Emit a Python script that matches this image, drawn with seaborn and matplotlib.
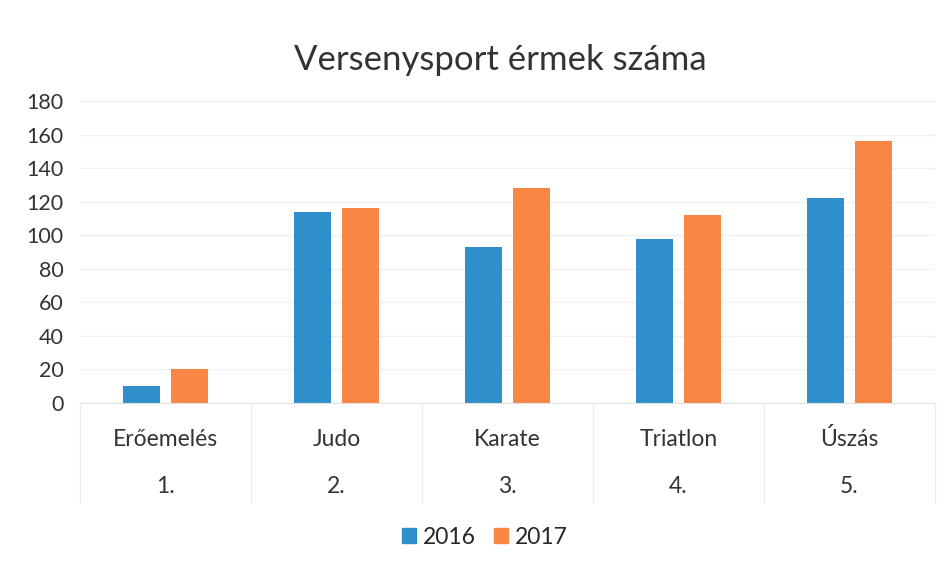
import pandas as pd
import matplotlib.pyplot as plt
import seaborn as sns
from matplotlib.patches import Patch

# adatok
sportok = ['Erőemelés', 'Judo', 'Karate', 'Triatlon', 'Úszás']
sorszam = ['1.', '2.', '3.', '4.', '5.']
ev_2016 = [10, 114, 93, 98, 122]
ev_2017 = [20, 116, 128, 112, 156]
evek = ['2016', '2017']
y_ticks = [0, 20, 40, 60, 80, 100, 120, 140, 160, 180]

df = pd.DataFrame({
    'sport': sportok * 2,
    'ev': [evek[0]] * len(sportok) + [evek[1]] * len(sportok),
    'ermek': ev_2016 + ev_2017,
})

sns.set_style('white')
plt.rcParams['font.family'] = ['Lato', 'DejaVu Sans']

fig = plt.figure(figsize=(9.44, 5.75), dpi=100, facecolor='white')
ax = fig.add_axes([80 / 944, 1 - 403 / 575, 855 / 944, 302 / 575])

szinek = ['#2E8FCA', '#FA8646']
sns.barplot(data=df, x='sport', y='ermek', hue='ev', palette=szinek,
            width=0.56, gap=0.21, ax=ax, saturation=1, legend=False,
            linewidth=0)

ax.set_ylim(0, 180)
ax.set_xlim(-0.5, len(sportok) - 0.5)
ax.set_yticks(y_ticks)
ax.set_yticklabels([str(t) for t in y_ticks], fontsize=15.5, color='#333333')
ax.tick_params(axis='y', length=0, pad=12)
ax.grid(axis='y', color='#f0f0f0', linewidth=1)
ax.set_axisbelow(True)
for s in ['top', 'right', 'left']:
    ax.spines[s].set_visible(False)
ax.spines['bottom'].set_color('#e2e2e2')

ax.set_xlabel('')
ax.set_ylabel('')
ax.set_xticks([])

# kétszintű kategória tengely
trans = ax.get_xaxis_transform()
for i, (nev, szam) in enumerate(zip(sportok, sorszam)):
    ax.text(i, -0.12, nev, transform=trans, ha='center', va='center',
            fontsize=16.5, color='#333333')
    ax.text(i, -0.275, szam, transform=trans, ha='center', va='center',
            fontsize=16.5, color='#333333')
for i in range(len(sportok) + 1):
    ax.plot([i - 0.5, i - 0.5], [0, -0.33], transform=trans, color='#ececec',
            linewidth=1, clip_on=False)

# jelmagyarázat
kezelok = [Patch(color=c, label=e) for c, e in zip(szinek, evek)]
fig.legend(handles=kezelok, loc='center', bbox_to_anchor=(485 / 944, 1 - 537 / 575),
           ncol=2, frameon=False, fontsize=16.5, handlelength=0.6, handleheight=0.6,
           handletextpad=0.3, columnspacing=0.8)

fig.text(500 / 944, 1 - 60 / 575, 'Versenysport érmek száma', ha='center',
         va='center', fontsize=25, color='#333333')

plt.savefig('out.png', dpi=100, facecolor='white')
